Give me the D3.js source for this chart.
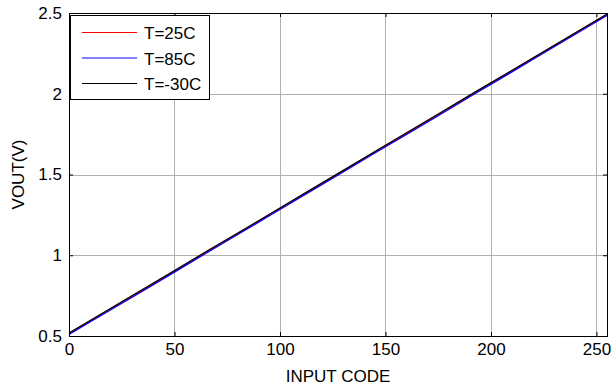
<!DOCTYPE html>
<html>
<head>
<meta charset="utf-8">
<script src="https://cdn.jsdelivr.net/npm/d3@7"></script>
<style>
  body { margin: 0; background: #fff; }
  text { font-family: "Liberation Sans", Arial, sans-serif; fill: #000; }
</style>
</head>
<body>
<div id="chart"></div>
<script>
// input codes sampled along the sweep
const codes = [0, 16, 32, 48, 64, 80, 96, 112, 128, 144, 160, 176, 192, 208, 224, 240, 255]

// VOUT (V) for each temperature
const vout25 = [0.515, 0.639, 0.761, 0.886, 1.011, 1.133, 1.258, 1.383, 1.506, 1.631, 1.753, 1.878, 2.003, 2.125, 2.250, 2.374, 2.490]
const vout85 = [0.509, 0.633, 0.756, 0.880, 1.005, 1.128, 1.252, 1.377, 1.500, 1.625, 1.748, 1.872, 1.997, 2.120, 2.244, 2.368, 2.484]
const voutM30 = [0.519, 0.643, 0.766, 0.890, 1.015, 1.138, 1.262, 1.387, 1.510, 1.635, 1.758, 1.882, 2.007, 2.130, 2.254, 2.378, 2.494]

const seriesNames = ['T=25C', 'T=85C', 'T=-30C']
const seriesColors = ['#ff0000', '#0000ff', '#000000']
const xTicks = [0, 50, 100, 150, 200, 250]
const yTicks = [0.5, 1, 1.5, 2, 2.5]

const W = 613, H = 391
const margin = {top: 13, right: 6, bottom: 55, left: 69}
const cw = W - margin.left - margin.right
const ch = H - margin.top - margin.bottom
const fontSize = '17px'

const svg = d3.select('#chart').append('svg')
  .attr('width', W)
  .attr('height', H)

const g = svg.append('g')
  .attr('transform', `translate(${margin.left}, ${margin.top})`)

const x = d3.scaleLinear().domain([0, 255]).range([0, cw])
const y = d3.scaleLinear().domain([0.5, 2.5]).range([ch, 0])

// grid
g.append('g').attr('class', 'grid')
  .selectAll('line.gx')
  .data(xTicks.filter(d => d > 0))
  .enter().append('line')
  .attr('x1', d => Math.round(x(d)) + 0.5).attr('x2', d => Math.round(x(d)) + 0.5)
  .attr('y1', 0).attr('y2', ch)
  .attr('stroke', '#b0b0b0').attr('stroke-width', 1)

g.select('.grid')
  .selectAll('line.gy')
  .data(yTicks.filter(d => d > 0.5 && d < 2.5))
  .enter().append('line')
  .attr('x1', 0).attr('x2', cw)
  .attr('y1', d => Math.round(y(d)) + 0.5).attr('y2', d => Math.round(y(d)) + 0.5)
  .attr('stroke', '#b0b0b0').attr('stroke-width', 1)

// series
const series = [vout25, vout85, voutM30]
const line = d3.line()
  .x((d, i) => x(codes[i]))
  .y(d => y(d))

g.selectAll('.series')
  .data(series)
  .enter().append('path')
  .attr('class', 'series')
  .attr('fill', 'none')
  .attr('stroke', (d, i) => seriesColors[i])
  .attr('stroke-width', 1.2)
  .attr('d', line)

// axes (inward ticks, matlab style)
g.append('g')
  .attr('transform', `translate(0, ${ch})`)
  .call(d3.axisBottom(x).tickValues(xTicks).tickSize(-4).tickPadding(7).tickFormat(d3.format('d')))
g.append('g')
  .call(d3.axisLeft(y).tickValues(yTicks).tickSize(-4).tickPadding(7).tickFormat(d => d))

g.append('g')
  .call(d3.axisTop(x).tickValues(xTicks).tickSize(-4).tickFormat(''))
g.append('g')
  .attr('transform', `translate(${cw}, 0)`)
  .call(d3.axisRight(y).tickValues(yTicks).tickSize(-4).tickFormat(''))

svg.selectAll('.domain').attr('stroke', '#000')
svg.selectAll('.tick line').attr('stroke', '#000')
svg.selectAll('.tick text')
  .style('font-family', '"Liberation Sans", Arial, sans-serif')
  .style('font-size', fontSize)
  .attr('fill', '#000')

// box
g.append('rect')
  .attr('x', 0.5).attr('y', 0.5)
  .attr('width', cw).attr('height', ch)
  .attr('fill', 'none').attr('stroke', '#000')

// axis labels
svg.append('text')
  .attr('x', margin.left + cw / 2)
  .attr('y', 382)
  .attr('text-anchor', 'middle')
  .style('font-size', fontSize)
  .text('INPUT CODE')

svg.append('text')
  .attr('transform', `translate(24, ${margin.top + ch / 2}) rotate(-90)`)
  .attr('text-anchor', 'middle')
  .style('font-size', fontSize)
  .text('VOUT(V)')

// legend
const legend = g.append('g').attr('transform', 'translate(1, 2)')
legend.append('rect')
  .attr('x', 0.5).attr('y', 0.5)
  .attr('width', 139).attr('height', 84)
  .attr('fill', '#fff').attr('stroke', '#000')

const item = legend.selectAll('.item')
  .data(seriesNames)
  .enter().append('g')
  .attr('class', 'item')
  .attr('transform', (d, i) => `translate(0, ${17 + i * 25.5})`)

item.append('line')
  .attr('x1', 12).attr('x2', 67)
  .attr('y1', 0.5).attr('y2', 0.5)
  .attr('stroke', (d, i) => seriesColors[i])

item.append('text')
  .attr('x', 74)
  .attr('y', 7)
  .style('font-size', fontSize)
  .text(d => d)
</script>
</body>
</html>
